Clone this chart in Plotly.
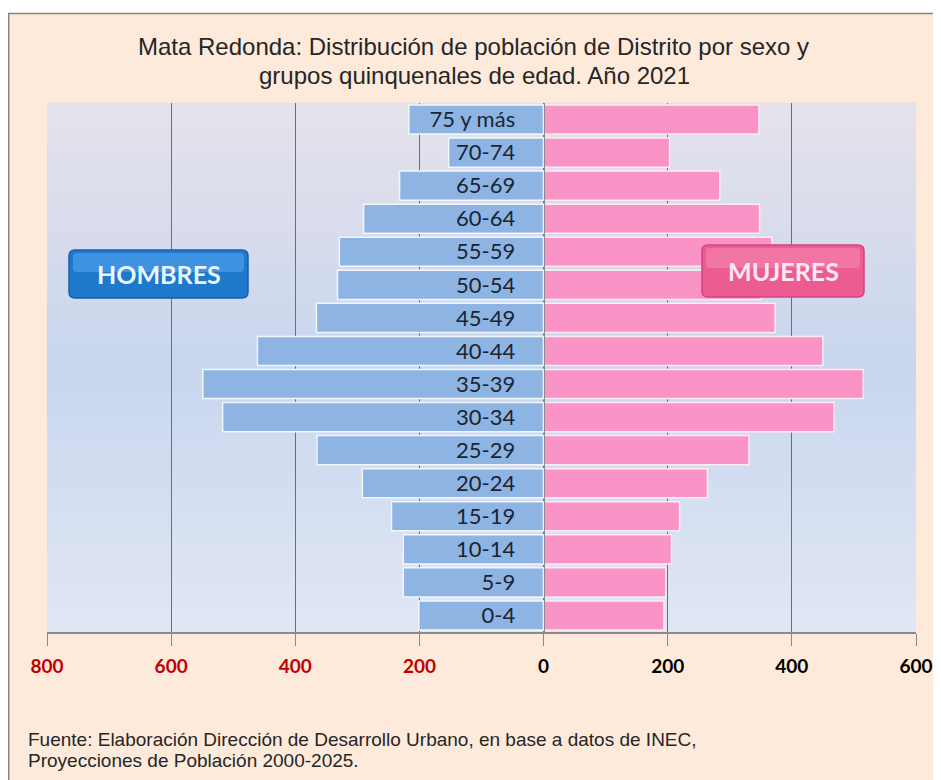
import plotly.graph_objects as go

# ---------------- data ----------------
age_groups = ["0-4", "5-9", "10-14", "15-19", "20-24", "25-29", "30-34", "35-39",
              "40-44", "45-49", "50-54", "55-59", "60-64", "65-69", "70-74", "75 y más"]
hombres = [201, 226, 226, 245, 292, 365, 517, 549, 461, 366, 332, 329, 290, 232, 153, 217]
mujeres = [194, 197, 206, 219, 264, 331, 468, 515, 450, 373, 350, 368, 348, 284, 203, 347]

x_tick_vals = [-800, -600, -400, -200, 0, 200, 400, 600]
x_tick_text = ["800", "600", "400", "200", "0", "200", "400", "600"]
x_tick_colors = ["#C00000", "#C00000", "#C00000", "#C00000", "#000000", "#000000", "#000000", "#000000"]

title_lines = ["Mata Redonda: Distribución de población de Distrito por sexo y",
               "grupos quinquenales de edad. Año 2021"]
source_lines = ["Fuente: Elaboración Dirección de Desarrollo Urbano, en base a datos de INEC,",
                "Proyecciones de Población 2000-2025."]

# ---------------- geometry helpers ----------------
# the page body adds an 8px margin, so the figure is laid out 8px smaller
OFF = 8
W, H = 941 - OFF, 780 - OFF
# plot area in reference-image pixels
L, R, T, B = 47, 916, 103, 632


def px(x):
    return (x - L) / (R - L)


def py(y):
    return (B - y) / (B - T)


def rounded_rect(x0, y0, x1, y1, r):
    pts = [
        f"M {px(x0 + r)},{py(y0)}",
        f"L {px(x1 - r)},{py(y0)}",
        f"Q {px(x1)},{py(y0)} {px(x1)},{py(y0 + r)}",
        f"L {px(x1)},{py(y1 - r)}",
        f"Q {px(x1)},{py(y1)} {px(x1 - r)},{py(y1)}",
        f"L {px(x0 + r)},{py(y1)}",
        f"Q {px(x0)},{py(y1)} {px(x0)},{py(y1 - r)}",
        f"L {px(x0)},{py(y0 + r)}",
        f"Q {px(x0)},{py(y0)} {px(x0 + r)},{py(y0)}",
        "Z",
    ]
    return " ".join(pts)


fig = go.Figure()

fig.add_trace(go.Bar(
    y=age_groups, x=[-v for v in hombres], orientation="h", name="Hombres",
    marker=dict(color="#8DB4E2", line=dict(color="#F2F6FC", width=1.5)),
    customdata=hombres, hovertemplate="%{y}: %{customdata}<extra>Hombres</extra>",
))
fig.add_trace(go.Bar(
    y=age_groups, x=mujeres, orientation="h", name="Mujeres",
    marker=dict(color="#FA93C6", line=dict(color="#FDEAF3", width=1.5)),
    hovertemplate="%{y}: %{x}<extra>Mujeres</extra>",
))

shapes = []
# white strip above the frame, grey frame on top and left
shapes.append(dict(type="rect", xref="paper", yref="paper", x0=px(0), x1=px(960), y0=py(13), y1=py(0),
                   fillcolor="white", line=dict(width=0), layer="below"))
shapes.append(dict(type="line", xref="paper", yref="paper", x0=px(8), x1=px(960), y0=py(13.5), y1=py(13.5),
                   line=dict(color="#8C8279", width=1.5), layer="below"))
shapes.append(dict(type="line", xref="paper", yref="paper", x0=px(8.7), x1=px(8.7), y0=py(13), y1=py(800),
                   line=dict(color="#8C8279", width=1.5), layer="below"))

# plot-area gradient
stops = [(0.0, (229, 226, 235)), (0.5, (201, 214, 238)), (1.0, (224, 231, 245))]
n = 40
for i in range(n):
    f = (i + 0.5) / n
    for (a, ca), (b, cb) in zip(stops[:-1], stops[1:]):
        if a <= f <= b:
            t = (f - a) / (b - a)
            c = tuple(round(ca[k] + (cb[k] - ca[k]) * t) for k in range(3))
            break
    y_top = T + (B - T) * i / n
    y_bot = T + (B - T) * (i + 1) / n
    shapes.append(dict(type="rect", xref="paper", yref="paper", x0=0, x1=1,
                       y0=py(y_bot), y1=py(y_top) + 0.001,
                       fillcolor=f"rgb{c}", line=dict(width=0), layer="below"))

# badges
shapes.append(dict(type="path", xref="paper", yref="paper", path=rounded_rect(69, 250, 248, 298, 6),
                   fillcolor="#1E78CC", line=dict(color="#1660AA", width=1.5), layer="above"))
shapes.append(dict(type="path", xref="paper", yref="paper", path=rounded_rect(73, 253, 244, 272, 4),
                   fillcolor="rgba(90,170,240,0.55)", line=dict(width=0), layer="above"))
shapes.append(dict(type="path", xref="paper", yref="paper", path=rounded_rect(702, 245, 864, 297, 6),
                   fillcolor="#EC5C93", line=dict(color="#D4437A", width=1.5), layer="above"))
shapes.append(dict(type="path", xref="paper", yref="paper", path=rounded_rect(706, 248, 860, 268, 4),
                   fillcolor="rgba(245,140,180,0.55)", line=dict(width=0), layer="above"))

annotations = [
    dict(text=title_lines[0], xref="paper", yref="paper", x=px(473), y=py(46), xanchor="center", yanchor="middle",
         showarrow=False, font=dict(family="Liberation Sans, Arial", size=24, color="#262626")),
    dict(text=title_lines[1], xref="paper", yref="paper", x=px(474), y=py(76), xanchor="center", yanchor="middle",
         showarrow=False, font=dict(family="Liberation Sans, Arial", size=24, color="#262626")),
    dict(text=source_lines[0], xref="paper", yref="paper", x=px(26), y=py(739), xanchor="left", yanchor="middle",
         showarrow=False, font=dict(family="Liberation Sans, Arial", size=19, color="#262626")),
    dict(text=source_lines[1], xref="paper", yref="paper", x=px(26), y=py(761), xanchor="left", yanchor="middle",
         showarrow=False, font=dict(family="Liberation Sans, Arial", size=19, color="#262626")),
    dict(text="<b>HOMBRES</b>", xref="paper", yref="paper", x=px(158.5), y=py(274), xanchor="center",
         yanchor="middle", showarrow=False, font=dict(family="Lato, Open Sans", size=25, color="#EAF6FF")),
    dict(text="<b>MUJERES</b>", xref="paper", yref="paper", x=px(783), y=py(271), xanchor="center",
         yanchor="middle", showarrow=False, font=dict(family="Lato, Open Sans", size=25, color="#FCE8F0")),
]

fig.update_layout(
    width=W, height=H,
    margin=dict(l=L - OFF, r=W - (R - OFF), t=T - OFF, b=H - (B - OFF), autoexpand=False),
    paper_bgcolor="#FDEADB",
    plot_bgcolor="rgba(0,0,0,0)",
    barmode="overlay", bargap=0.12,
    showlegend=False,
    shapes=shapes,
    annotations=annotations,
    xaxis=dict(
        range=[-800, 600], tickvals=x_tick_vals,
        ticktext=[f"<b><span style='color:{c}'>{t}</span></b>" for t, c in zip(x_tick_text, x_tick_colors)],
        tickfont=dict(family="Lato, Open Sans", size=19),
        showgrid=True, gridcolor="#6E6E6E", gridwidth=1,
        zeroline=False, showline=True, linecolor="#8A8A8A", linewidth=1.5,
        ticks="outside", ticklen=12, tickcolor="#8A8A8A", ticklabelstandoff=4,
        fixedrange=True,
    ),
    yaxis=dict(
        type="category", categoryorder="array", categoryarray=age_groups,
        range=[-0.5, len(age_groups) - 0.5],
        anchor="free", position=800 / 1400, side="left",
        showgrid=False, zeroline=False, showline=True, linecolor="#8A8A8A", linewidth=1,
        ticks="", ticklabelstandoff=24,
        tickfont=dict(family="Lato, Open Sans", size=22, color="#1A2433"),
        automargin=False, fixedrange=True,
    ),
)

fig.write_html("out.html")
